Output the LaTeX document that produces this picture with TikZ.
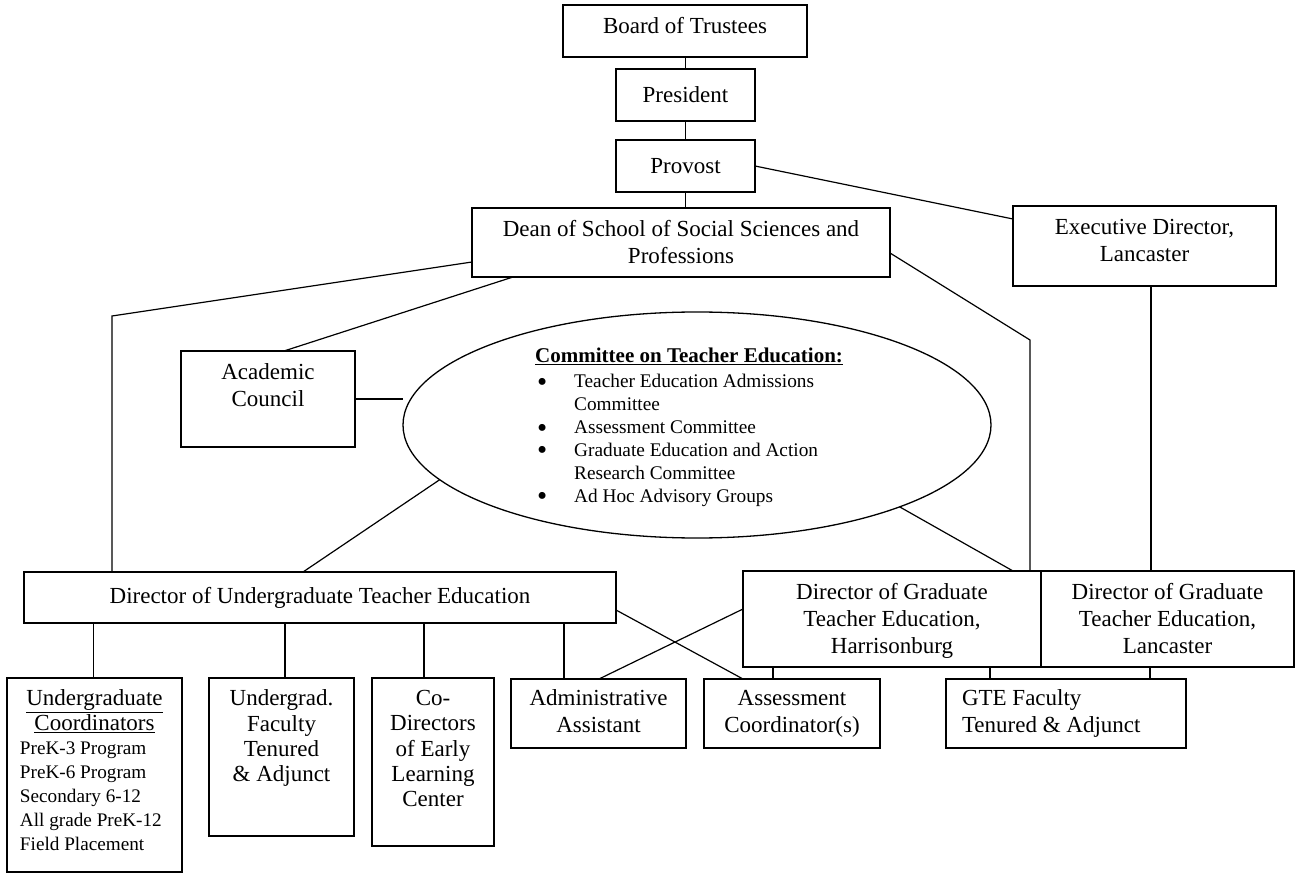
\documentclass[tikz,border=0pt]{standalone}
\usepackage{fontspec}
\usepackage{graphicx}
\setmainfont{Liberation Serif}
\usetikzlibrary{shapes.geometric}
\newcommand\mainfs{\fontsize{23}{27}\selectfont}
\newcommand\bigbul{\hspace*{2pt}\makebox[37pt][l]{\raisebox{-3.5pt}[0pt][0pt]{\scalebox{1.5}{\textbullet}}}}
\newcommand\orgbox[8]{%
  \pgfmathsetlengthmacro\obw{#4-#2}%
  \pgfmathsetlengthmacro\obh{#5-#3}%
  \node[orgnode,anchor=north west,minimum width=\obw,minimum height=\obh] (#1) at (#2,#3)
    {\parbox[c][\obh][#6]{\obw}{\vspace*{#7}#8}};}
\tikzset{
  orgnode/.style={draw, line width=1.3pt, inner sep=0pt, outer sep=0pt, fill=white},
  conn/.style={line width=1.2pt},
  ovalnode/.style={ellipse, draw, line width=1.3pt, inner sep=0pt, outer sep=0pt},
  listnode/.style={anchor=north west, inner sep=0pt, align=left, font=\fontsize{19.3}{22.9}\selectfont}
}
\begin{document}
\begin{tikzpicture}[x=1pt,y=-1pt]
\useasboundingbox (0,0) rectangle (1296,874);
\fill[white] (0,0) rectangle (1296,874);

\orgbox{board}{563}{5}{807}{57}{t}{10pt}{\mainfs\centering\strut Board of Trustees}
\orgbox{president}{616}{69}{755}{121}{c}{0pt}{\mainfs\centering President}
\orgbox{provost}{616}{140}{755}{192}{c}{0pt}{\mainfs\centering Provost}
\orgbox{dean}{472}{208}{890}{277}{c}{0pt}{\mainfs\centering Dean of School of Social Sciences and\\ Professions}
\orgbox{exec}{1013}{206}{1276}{286}{t}{10pt}{\mainfs\centering\strut Executive Director,\\ Lancaster}
\orgbox{ac}{181}{351}{355}{447}{t}{10pt}{\mainfs\centering\strut Academic\\ Council}
\orgbox{dirug}{24}{572}{616}{623}{c}{0pt}{\mainfs\centering Director of Undergraduate Teacher Education}
\orgbox{harr}{743}{571}{1041}{667}{t}{10pt}{\mainfs\centering\strut Director of Graduate\\ Teacher Education,\\ Harrisonburg}
\orgbox{lanc}{1041}{571}{1294}{667}{t}{10pt}{\mainfs\centering\strut Director of Graduate\\ Teacher Education,\\ Lancaster}
\orgbox{coord}{7}{678}{182}{872}{t}{10pt}{\fontsize{23}{25}\selectfont\centering\strut\underline{Undergraduate}\\ \underline{Coordinators}\par
  {\raggedright\leftskip=13pt\fontsize{19.2}{24}\selectfont PreK-3 Program\\ PreK-6 Program\\ Secondary 6-12\\ All grade PreK-12\\ Field Placement\par}}
\orgbox{fac}{209}{678}{354}{836}{t}{10pt}{\fontsize{23}{25.3}\selectfont\centering\strut Undergrad.\\ Faculty\\ Tenured\\ \& Adjunct}
\orgbox{codir}{372}{678}{494}{846}{t}{10pt}{\fontsize{23}{25.2}\selectfont\centering\strut Co-\\ Directors\\ of Early\\ Learning\\ Center}
\orgbox{admin}{511}{679}{686}{748}{t}{8pt}{\mainfs\centering\strut Administrative\\ Assistant}
\orgbox{assess}{704}{679}{880}{748}{t}{8pt}{\mainfs\centering\strut Assessment\\ Coordinator(s)}
\orgbox{gte}{946}{679}{1186}{748}{t}{8pt}{\mainfs\raggedright\leftskip=16pt\strut GTE Faculty\\ Tenured \& Adjunct}

\node[ovalnode, minimum width=588pt, minimum height=226pt] (cte) at (697,425) {};
\node[listnode] (ctelist) at (535,348) {%
  {\fontsize{21}{25}\selectfont\bfseries\underline{Committee on Teacher Education:}}\\[2.1pt]
  \bigbul Teacher Education Admissions\\
  \hspace*{39pt}Committee\\
  \bigbul Assessment Committee\\
  \bigbul Graduate Education and Action\\
  \hspace*{39pt}Research Committee\\
  \bigbul Ad Hoc Advisory Groups};

% top chain
\draw[conn] (president.north) -- (president.north |- board.south);
\draw[conn] (president.south) -- (president.south |- provost.north);
\draw[conn] (provost.south) -- (provost.south |- dean.north);
\draw[conn] (provost.east) -- ([yshift=-13pt]exec.north west);

% dean branches
\coordinate (kL) at (112,316);
\coordinate (kR) at (1030,340);
\draw[conn] ([yshift=-54pt]dean.north west) -- (kL) -- (kL |- dirug.north);
\draw[conn] ([yshift=-45pt]dean.north east) -- (kR) -- (kR |- harr.north);
\draw[conn] ([xshift=41pt]dean.south west) -- ([xshift=103pt]ac.north west);
\coordinate (eB) at ([xshift=138pt]exec.south west);
\draw[conn] (eB) -- (eB |- lanc.north);

% committee
\draw[conn] (ac.east) -- (ac.east -| cte.west);
\draw[conn] (cte.192) -- ([xshift=279pt]dirug.north west);
\draw[conn] (cte.-22) -- ([xshift=270pt]harr.north west);

% undergraduate children
\coordinate (c1) at ([xshift=-1pt]coord.north);
\coordinate (c2) at ([xshift=76pt]fac.north west);
\coordinate (c3) at ([xshift=52pt]codir.north west);
\coordinate (c4) at ([xshift=53pt]admin.north west);
\draw[conn] (c1) -- (c1 |- dirug.south);
\draw[conn] (c2) -- (c2 |- dirug.south);
\draw[conn] (c3) -- (c3 |- dirug.south);
\draw[conn] (c4) -- (c4 |- dirug.south);

% cross lines
\draw[conn] ([yshift=-38pt]dirug.north east) -- ([xshift=39pt]assess.north west);
\draw[conn] ([yshift=-38pt]harr.north west) -- ([xshift=88pt]admin.north west);

% graduate children
\coordinate (aT) at ([xshift=69pt]assess.north west);
\draw[conn] (aT) -- (aT |- harr.south);
\coordinate (g1) at ([xshift=44pt]gte.north west);
\coordinate (g2) at ([xshift=204pt]gte.north west);
\draw[conn] (g1) -- (g1 |- harr.south);
\draw[conn] (g2) -- (g2 |- lanc.south);
\end{tikzpicture}
\end{document}
